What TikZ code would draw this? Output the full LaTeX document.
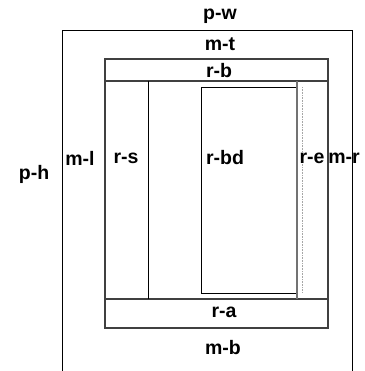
\documentclass[tikz,border=0pt]{standalone}
\usepackage{fontspec}
\setmainfont{Liberation Sans}
\usetikzlibrary{positioning}

\begin{document}
\begin{tikzpicture}[
  x=1pt, y=-1pt,
  lbl/.style    = {font=\fontsize{19.5}{22}\selectfont\bfseries, inner sep=0pt},
  pageline/.style = {draw=black, line width=0.8pt},
  regline/.style  = {draw=black!75, line width=1.2pt},
  thinline/.style = {draw=black, line width=0.8pt},
  extline/.style  = {draw=black!55, line width=1.2pt},
  guide/.style    = {draw=black!35, line width=0.6pt, densely dotted},
]
\useasboundingbox (0,0) rectangle (364,371);
% page and regions
\draw[pageline] (62,371) -- (62,30) -- (352,30) -- (352,371);
\draw[regline] (105,59) rectangle (328,328);
\draw[regline] (105,81) -- (328,81);
\draw[regline] (105,299) -- (328,299);
\draw[thinline] (148,81) -- (148,299);
\draw[thinline] (201,87) rectangle (296,293);
\draw[extline] (297,81) -- (297,299);
\draw[guide] (302,87) -- (302,293);
% labels
\node[lbl] (pw) at (220,16) {p-w};
\node[lbl] (mt) at (220,44) {m-t};
\node[lbl] (rb) at (219,71) {r-b};
\node[lbl] (ph) at (34,174) {p-h};
\node[lbl] (ml) at (80,158) {m-l};
\node[lbl] (rs) at (126,158) {r-s};
\node[lbl] (rbd) at (225,158) {r-bd};
\node[lbl] (re) at (312,158) {r-e};
\node[lbl] (mr) at (344,158) {m-r};
\node[lbl] (ra) at (224,312) {r-a};
\node[lbl] (mb) at (223,348) {m-b};
\end{tikzpicture}
\end{document}
